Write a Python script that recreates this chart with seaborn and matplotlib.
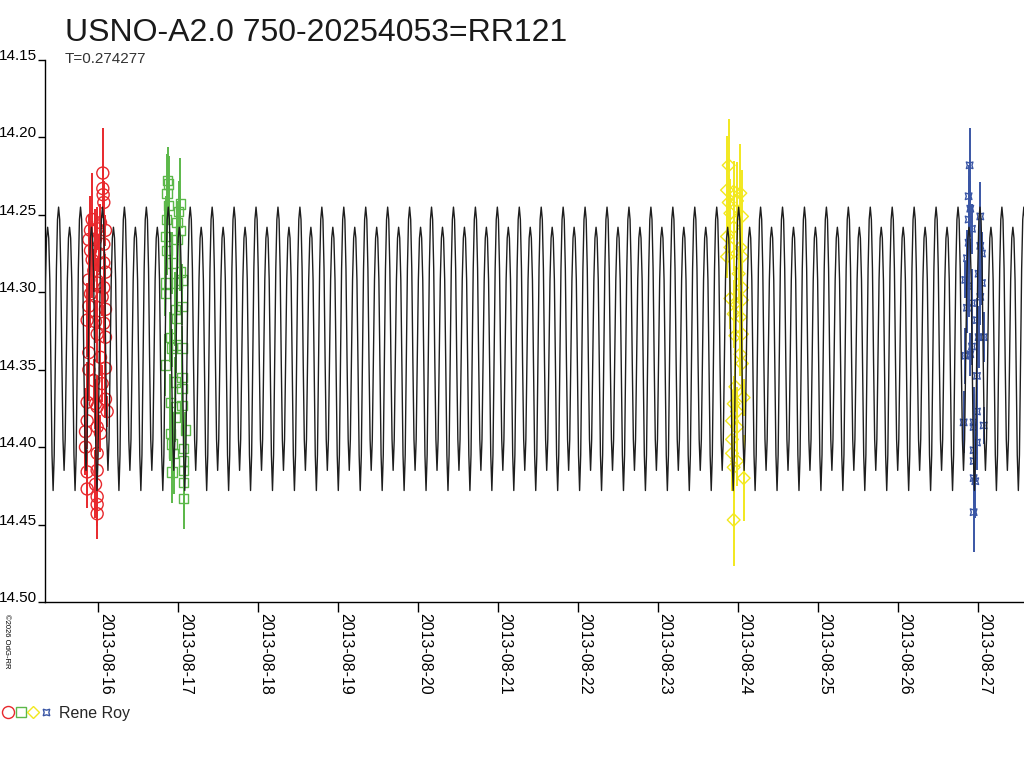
import numpy as np
import pandas as pd
import matplotlib
matplotlib.use("Agg")
import matplotlib.pyplot as plt
import seaborn as sns
from matplotlib.lines import Line2D
from matplotlib.legend_handler import HandlerTuple

# ---- data ----
title = "USNO-A2.0 750-20254053=RR121"
period = 0.274277          # days
epoch = "2013-08-15 23:45"  # a primary minimum

# one cycle of the model light curve (phase, mag)
phase_grid = [0.00, 0.05, 0.10, 0.15, 0.20, 0.25, 0.30, 0.35, 0.40, 0.45,
              0.50, 0.55, 0.60, 0.65, 0.70, 0.75, 0.80, 0.85, 0.90, 0.95]
phase_mag = [14.428, 14.405, 14.345, 14.285, 14.253, 14.245, 14.253, 14.285, 14.345, 14.395,
             14.415, 14.395, 14.345, 14.292, 14.265, 14.258, 14.265, 14.292, 14.350, 14.405]

# observations: hours relative to the night date, magnitude, error
red_date = "2013-08-16"
red_hours = [1.5, 1.5, 1.6, 1.8, -1.7, 0.8, -2.2, -0.2, 2.3, -2.7, -0.7, 1.8,
             -2.2, 0.3, -1.7, 1.8, -1.2, 2.3, -2.7, -0.2, 1.8, -2.2, 1.3, -2.7,
             2.3, -3.2, -0.7, 1.8, -0.2, 2.3, -2.7, 0.8, -2.7, 2.3, -1.2, 1.3,
             -3.2, -0.7, 2.3, -0.2, 2.8, -3.2, -0.2, -3.7, 0.8, -3.7, -0.2, -3.2,
             -0.2, -3.2, -0.7, -0.2, -0.2, -0.2]
red_mag = [14.223, 14.233, 14.237, 14.242, 14.253, 14.255, 14.260, 14.259, 14.260, 14.266, 14.266, 14.269,
           14.273, 14.275, 14.279, 14.281, 14.286, 14.287, 14.292, 14.294, 14.297, 14.301, 14.303, 14.309,
           14.311, 14.318, 14.319, 14.320, 14.327, 14.329, 14.339, 14.342, 14.350, 14.349, 14.357, 14.359,
           14.371, 14.372, 14.369, 14.374, 14.377, 14.383, 14.387, 14.390, 14.391, 14.400, 14.404, 14.416,
           14.415, 14.427, 14.424, 14.432, 14.437, 14.443]
red_err = [0.029, 0.012, 0.010, 0.014, 0.030, 0.012,
           0.022, 0.014, 0.010, 0.016, 0.020, 0.010,
           0.018, 0.012, 0.025, 0.010, 0.014, 0.012,
           0.020, 0.016, 0.010, 0.022, 0.012, 0.018,
           0.010, 0.024, 0.014, 0.012, 0.018, 0.010,
           0.016, 0.012, 0.020, 0.010, 0.014, 0.012,
           0.026, 0.016, 0.012, 0.020, 0.010, 0.018,
           0.024, 0.028, 0.012, 0.016, 0.020, 0.014,
           0.018, 0.012, 0.022, 0.016, 0.014, 0.016]

green_date = "2013-08-17"
green_hours = [-3.0, -2.7, -3.2, -2.7, 0.8, -3.4, 0.3, -0.2, -3.7, 0.8, -0.2, -3.2,
               -1.7, -3.7, 0.8, -0.2, -3.7, 1.3, -0.7, 1.3, -0.4, -2.2, -1.7, -0.4,
               1.3, -3.7, 1.3, -0.7, 1.3, -2.2, -0.7, -0.7, 1.3, 2.3, -2.2, -1.7,
               -1.2, 1.8, -1.7, 1.8, 1.8, 1.8, 1.8]
green_mag = [14.228, 14.230, 14.236, 14.244, 14.243, 14.253, 14.248, 14.255, 14.264, 14.260, 14.266, 14.273,
             14.281, 14.294, 14.287, 14.294, 14.301, 14.292, 14.311, 14.309, 14.317, 14.329, 14.336, 14.334,
             14.336, 14.347, 14.355, 14.358, 14.362, 14.371, 14.374, 14.381, 14.373, 14.389, 14.391, 14.398,
             14.404, 14.401, 14.416, 14.409, 14.415, 14.423, 14.433]
green_err = [0.022, 0.018, 0.025, 0.012, 0.030, 0.015,
             0.020, 0.014, 0.018, 0.022, 0.012, 0.016,
             0.020, 0.015, 0.012, 0.018, 0.014, 0.010,
             0.024, 0.012, 0.020, 0.016, 0.012, 0.018,
             0.014, 0.020, 0.012, 0.016, 0.014, 0.018,
             0.012, 0.016, 0.020, 0.012, 0.018, 0.022,
             0.026, 0.014, 0.020, 0.016, 0.018, 0.024,
             0.020]

yellow_date = "2013-08-24"
yellow_hours = [-2.7, -3.2, -1.2, 0.8, -2.7, -0.2, -2.2, 1.3, -3.2, -1.2, -2.2, 0.8,
                -3.2, 1.3, 0.3, 1.3, -2.2, -0.7, 1.3, -1.2, 0.8, 1.3, -0.7, 0.8,
                1.3, -0.7, 1.8, -1.2, -0.2, -1.7, -0.2, -1.7, -1.7, -0.2, -1.2, 1.8,
                -1.2]
yellow_mag = [14.218, 14.234, 14.235, 14.236, 14.242, 14.241, 14.249, 14.251, 14.264, 14.258, 14.271, 14.271,
              14.277, 14.277, 14.288, 14.297, 14.304, 14.307, 14.305, 14.314, 14.316, 14.327, 14.328, 14.340,
              14.346, 14.361, 14.368, 14.372, 14.377, 14.383, 14.387, 14.395, 14.404, 14.409, 14.413, 14.420,
              14.447]
yellow_err = [0.030, 0.035, 0.020, 0.032, 0.018, 0.025,
              0.022, 0.030, 0.015, 0.028, 0.018, 0.024,
              0.014, 0.020, 0.018, 0.016, 0.020, 0.024,
              0.018, 0.022, 0.016, 0.020, 0.018, 0.014,
              0.020, 0.016, 0.012, 0.018, 0.016, 0.020,
              0.014, 0.018, 0.024, 0.016, 0.020, 0.028,
              0.030]

blue_date = "2013-08-27"
blue_hours = [-2.4, -2.7, -2.2, -2.7, 0.8, -1.7, -2.7, 0.8, 1.3, -3.2, 0.3, -3.7,
              -2.7, 1.3, 0.8, -3.2, -1.7, -0.2, 0.3, 1.8, -1.7, -3.7, -2.2, -0.2,
              -0.2, -4.2, -1.2, 1.8, -1.2, -0.2, -1.2, -1.2, -1.2, -0.7, -1.2]
blue_mag = [14.218, 14.238, 14.246, 14.253, 14.251, 14.259, 14.268, 14.270, 14.275, 14.278, 14.288, 14.292,
            14.296, 14.294, 14.303, 14.310, 14.307, 14.318, 14.329, 14.329, 14.335, 14.341, 14.340, 14.354,
            14.377, 14.384, 14.384, 14.386, 14.387, 14.397, 14.402, 14.409, 14.420, 14.422, 14.442]
blue_err = [0.024, 0.020, 0.018, 0.028, 0.022, 0.016,
            0.020, 0.024, 0.014, 0.018, 0.016, 0.012,
            0.020, 0.014, 0.018, 0.016, 0.022, 0.014,
            0.020, 0.016, 0.012, 0.018, 0.014, 0.022,
            0.016, 0.020, 0.018, 0.012, 0.026, 0.018,
            0.022, 0.020, 0.016, 0.024, 0.026]

x_ticks = ["2013-08-16", "2013-08-17", "2013-08-18", "2013-08-19", "2013-08-20", "2013-08-21",
           "2013-08-22", "2013-08-23", "2013-08-24", "2013-08-25", "2013-08-26", "2013-08-27"]
y_ticks = [14.15, 14.20, 14.25, 14.30, 14.35, 14.40, 14.45, 14.50]

# ---- figure ----
sns.set_theme(style="white")
plt.rcParams["font.family"] = ["Liberation Sans", "DejaVu Sans"]

fig = plt.figure(figsize=(10.24, 7.68), dpi=100)
ax = fig.add_axes([44.5 / 1024, 1 - 602 / 768, 1 - 44.5 / 1024, (602 - 60) / 768])

# model curve, repeated with the period
cycles = np.arange(-3, 44)
days = (cycles[:, None] + np.array(phase_grid)[None, :]).ravel() * period
curve = pd.DataFrame({
    "time": pd.Timestamp(epoch) + pd.to_timedelta(days, unit="D"),
    "mag": np.tile(phase_mag, len(cycles)),
})

series = [
    (red_date, red_hours, red_mag, red_err, "#e8282c", "o", 75),
    (green_date, green_hours, green_mag, green_err, "#5cb84a", "s", 45),
    (yellow_date, yellow_hours, yellow_mag, yellow_err, "#f2e81e", "D", 42),
    (blue_date, blue_hours, blue_mag, blue_err, "#3a56a5", (4, 1, 45), 45),
]
handles = []
for date, hrs, mag, err, col, mk, size in series:
    t = pd.Timestamp(date) + pd.to_timedelta(hrs, unit="h")
    ax.errorbar(t, mag, yerr=err, fmt="none", ecolor=col, elinewidth=1.4, zorder=2)
    sns.scatterplot(x=t, y=mag, marker=mk, s=size, color=col, facecolor="none",
                    edgecolor=col, linewidth=1.0, ax=ax, zorder=3)
    handles.append(Line2D([], [], ls="none", marker=mk, mfc="none", mec=col, mew=1.0,
                          ms=np.sqrt(size)))

sns.lineplot(data=curve, x="time", y="mag", color="#1e1e1e", lw=1.0,
             estimator=None, sort=False, ax=ax, zorder=4)

ax.set_xlim(pd.Timestamp("2013-08-15 08:00"), pd.Timestamp("2013-08-27 13:55"))
ax.set_ylim(14.50, 14.15)
ax.set_xticks(pd.to_datetime(x_ticks))
ax.set_xticklabels(x_ticks, rotation=270, ha="left", va="top", fontsize=11.5)
ax.set_yticks(y_ticks)
ax.set_yticklabels([f"{v:.2f}" for v in y_ticks], va="baseline", fontsize=11)
ax.tick_params(axis="x", direction="out", length=7, width=1, pad=1, colors="black", bottom=True)
ax.tick_params(axis="y", direction="out", length=5, width=1, pad=0.5, colors="black", left=True)
ax.set_xlabel("")
ax.set_ylabel("")
for side in ["top", "right"]:
    ax.spines[side].set_visible(False)
for side in ["left", "bottom"]:
    ax.spines[side].set_color("black")
    ax.spines[side].set_linewidth(1)
ax.grid(False)

fig.text(65 / 1024, 1 - 41 / 768, title, fontsize=23, color="#1a1a1a", va="baseline")
fig.text(65 / 1024, 1 - 63 / 768, f"T={period}", fontsize=11, color="#333333", va="baseline")
fig.text(3 / 1024, 1 - 614 / 768, "\u00a92026 OdG-RR", fontsize=5.5, rotation=270,
         ha="left", va="top", color="black")

fig.legend([tuple(handles)], ["Rene Roy"],
           handler_map={tuple: HandlerTuple(ndivide=None, pad=0.15)},
           loc="lower left", bbox_to_anchor=(0.0, 0.057), frameon=False,
           handlelength=3.0, handletextpad=0.5, borderpad=0.2, borderaxespad=0,
           fontsize=11.5)

fig.savefig("out.png", dpi=100)
